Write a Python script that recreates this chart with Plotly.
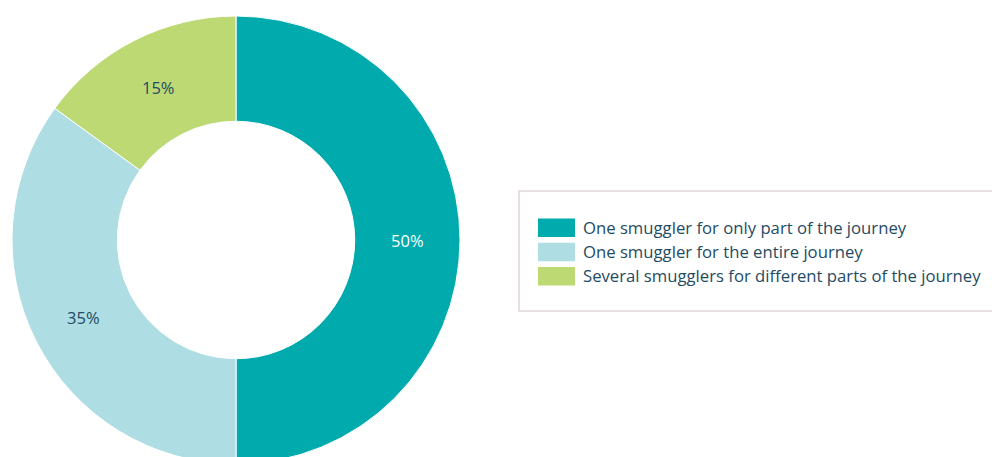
import plotly.graph_objects as go

# Survey shares by type of smuggling arrangement
categories = [
    "One smuggler for only part of the journey",
    "One smuggler for the entire journey",
    "Several smugglers for different parts of the journey",
]
shares = [50, 35, 15]
colors = ["#00AAAD", "#AEDDE3", "#BDD974"]
label_colors = ["#FFFFFF", "#1F4B63", "#1F4B63"]

FONT = "'Open Sans', Lato, sans-serif"
TEXT = "#1F4B63"

W, H = 992, 464
M_TOP = 16
PLOT_H = H - M_TOP


def px_x(x):
    return x / W


def px_y(y):
    return (H - y) / PLOT_H


fig = go.Figure(
    go.Pie(
        labels=categories,
        values=shares,
        sort=False,
        direction="clockwise",
        rotation=0,
        hole=0.53,
        marker=dict(colors=colors, line=dict(color="#FFFFFF", width=1)),
        texttemplate="%{value}%",
        textposition="inside",
        insidetextorientation="horizontal",
        textfont=dict(size=16.5, color=label_colors, family=FONT),
        domain=dict(x=[0, 472 / W], y=[0, 1]),
        showlegend=False,
        hoverinfo="label+percent",
    )
)

# Legend panel drawn with shapes and annotations
shapes = [
    dict(
        type="rect", xref="paper", yref="paper",
        x0=px_x(519), x1=px_x(1005), y0=px_y(311), y1=px_y(191),
        line=dict(color="#E8DFE5", width=2), fillcolor="#FFFFFF", layer="below",
    )
]
annotations = []
row_step = 24.3
for i, (name, col) in enumerate(zip(categories, colors)):
    top = 218.5 + row_step * i
    shapes.append(
        dict(
            type="rect", xref="paper", yref="paper",
            x0=px_x(538), x1=px_x(575), y0=px_y(top + 18.5), y1=px_y(top),
            line=dict(width=0), fillcolor=col,
        )
    )
    annotations.append(
        dict(
            xref="paper", yref="paper", x=px_x(581), y=px_y(top + 8.5),
            xanchor="left", yanchor="middle", showarrow=False,
            text=name, font=dict(size=16.7, color=TEXT, family=FONT),
        )
    )

fig.update_layout(
    width=W,
    height=H,
    margin=dict(l=0, r=0, t=M_TOP, b=0, pad=0),
    paper_bgcolor="#FFFFFF",
    plot_bgcolor="#FFFFFF",
    font=dict(family=FONT, color=TEXT),
    shapes=shapes,
    annotations=annotations,
)

fig.write_html(
    "out.html",
    post_script=(
        "document.documentElement.style.overflow='hidden';"
        "document.body.style.overflow='hidden';"
        "document.body.style.margin='0';"
    ),
)
